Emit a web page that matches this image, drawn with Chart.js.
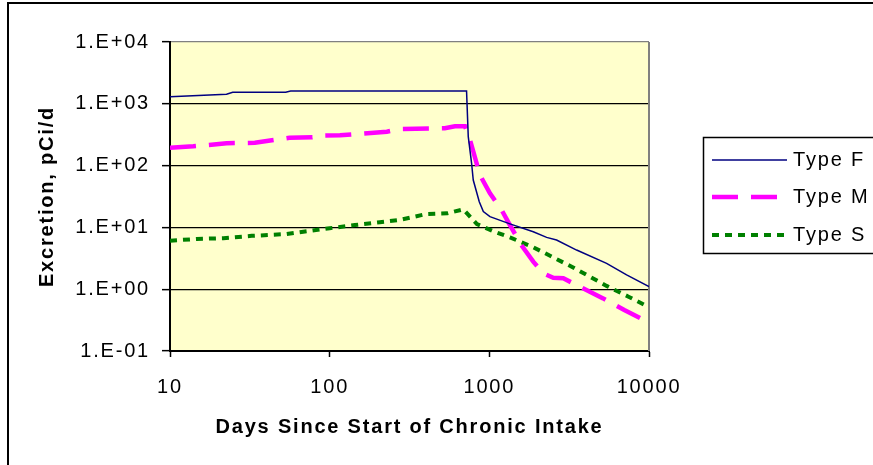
<!DOCTYPE html>
<html>
<head>
<meta charset="utf-8">
<script src="https://cdn.jsdelivr.net/npm/chart.js@4.4.1/dist/chart.umd.min.js"></script>
<style>
  html, body { margin: 0; padding: 0; background: #fff; }
  #wrap { width: 873px; height: 465px; position: relative; }
</style>
</head>
<body>
<div id="wrap"><canvas id="myChart"></canvas></div>
<script>
// values: days since start, excretion in pCi/d
var fDays = [10, 22.6, 24.7, 53, 57, 720, 738, 774, 793, 865, 917, 1009, 1346, 1884, 2285, 2637, 3520, 5425, 7240, 10000];
var fVals = [1303, 1425, 1535, 1535, 1610, 1610, 294, 110, 58.5, 26, 18, 14.9, 11.4, 8.5, 6.9, 6.25, 4.3, 2.62, 1.7, 1.1];

var mDays = [10, 14, 22.6, 34, 56, 78, 89, 116, 228, 275, 526, 609, 704, 757, 873, 1009, 1194, 1346, 1584, 1884, 2177, 2515, 2906, 4260, 5160, 7000, 10000];
var mVals = [195, 205, 230, 234, 282, 287, 305, 309, 354, 391, 401, 433, 433, 260, 70.5, 35.6, 19.1, 10.9, 5.2, 2.79, 1.81, 1.53, 1.5, 0.91, 0.71, 0.46, 0.287];

var sDays = [10, 14.7, 21.6, 32.5, 53.8, 68.3, 100, 144, 206, 275, 405, 546, 687, 757, 836, 1079, 1346, 1884, 3280, 5425, 7440, 10000];
var sVals = [6.1, 6.5, 6.7, 7.3, 7.8, 8.5, 9.7, 10.9, 12.1, 13.2, 16.5, 16.9, 19.6, 14.9, 11.3, 8.5, 6.9, 4.77, 2.31, 1.13, 0.757, 0.51];

var seriesNames = ["Type F", "Type M", "Type S"];
var xTicks = [10, 100, 1000, 10000];
var xTickLabels = ["10", "100", "1000", "10000"];
var yTicks = [0.1, 1, 10, 100, 1000, 10000];
var yTickLabels = ["1.E-01", "1.E+00", "1.E+01", "1.E+02", "1.E+03", "1.E+04"];

var FONT = "'Liberation Sans', Arial, sans-serif";

function pts(xs, ys) {
  return xs.map(function (x, i) { return {x: x, y: ys[i]}; });
}

var framePlugin = {
  id: 'frame',
  beforeDraw: function (chart) {
    var c = chart.ctx, a = chart.chartArea;
    c.letterSpacing = '1.8px';
    c.save();
    c.fillStyle = '#fff';
    c.fillRect(0, 0, chart.width, chart.height);
    c.strokeStyle = '#000';
    c.lineWidth = 2;
    c.strokeRect(8, 3, chart.width + 20, chart.height + 20);
    c.fillStyle = '#FFFFCC';
    c.fillRect(a.left, a.top, a.right - a.left, a.bottom - a.top);
    c.restore();
  },
  beforeDatasetsDraw: function (chart) {
    var c = chart.ctx, a = chart.chartArea;
    c.save();
    c.strokeStyle = '#808080';
    c.lineWidth = 2;
    c.beginPath();
    c.moveTo(a.right, a.top);
    c.lineTo(a.right, a.bottom);
    c.stroke();
    c.restore();
  },
  afterDraw: function (chart) {
    var c = chart.ctx;
    var rows = [160, 197, 235];
    c.save();
    c.strokeStyle = '#000';
    c.lineWidth = 1.5;
    c.strokeRect(703.5, 137.5, 200, 116);
    chart.data.datasets.forEach(function (ds, i) {
      c.beginPath();
      c.setLineDash(ds.borderDash || []);
      c.strokeStyle = ds.borderColor;
      c.lineWidth = ds.borderWidth;
      c.moveTo(712, rows[i]);
      c.lineTo(787, rows[i]);
      c.stroke();
      c.setLineDash([]);
      c.fillStyle = '#000';
      c.font = '20px ' + FONT;
      c.textBaseline = 'middle';
      c.fillText(ds.label, 793, rows[i]);
    });
    c.restore();
  }
};

var ctx = document.getElementById("myChart").getContext('2d');
var myChart = new Chart(ctx, {
  type: 'line',
  data: {
    datasets: [{
      label: seriesNames[0],
      data: pts(fDays, fVals),
      borderColor: '#000080',
      borderWidth: 1.5,
      pointRadius: 0,
      tension: 0,
      fill: false
    }, {
      label: seriesNames[1],
      data: pts(mDays, mVals),
      borderColor: '#FF00FF',
      borderWidth: 4.5,
      borderDash: [26, 13],
      pointRadius: 0,
      tension: 0,
      fill: false
    }, {
      label: seriesNames[2],
      data: pts(sDays, sVals),
      borderColor: '#008000',
      borderWidth: 4,
      borderDash: [7, 6],
      pointRadius: 0,
      tension: 0,
      fill: false
    }]
  },
  options: {
    responsive: true,
    maintainAspectRatio: false,
    animation: false,
    devicePixelRatio: 1,
    layout: { padding: { left: 0, top: 42, right: 224, bottom: 0 } },
    plugins: { legend: { display: false }, tooltip: { enabled: false } },
    scales: {
      x: {
        type: 'logarithmic',
        min: 10,
        max: 10000,
        afterBuildTicks: function (s) { s.ticks = xTicks.map(function (v) { return {value: v}; }); },
        afterFit: function (s) { s.height = 114; },
        grid: { drawOnChartArea: false, drawTicks: true, tickLength: 6, tickColor: '#000', tickWidth: 1.5 },
        border: { color: '#000', width: 2 },
        ticks: {
          font: { family: FONT, size: 20 },
          color: '#000',
          padding: 18,
          maxRotation: 0,
          autoSkip: false,
          callback: function (v, i) { return xTickLabels[i]; }
        },
        title: {
          display: true,
          text: 'Days Since Start of Chronic Intake',
          font: { family: FONT, size: 20, weight: 'bold' },
          color: '#000',
          padding: { top: 0, bottom: 26 }
        }
      },
      y: {
        type: 'logarithmic',
        min: 0.1,
        max: 10000,
        afterBuildTicks: function (s) { s.ticks = yTicks.map(function (v) { return {value: v}; }); },
        afterFit: function (s) { s.width = 170; },
        grid: {
          color: function (c) { return (c.tick && c.tick.value === 10000) ? '#808080' : '#000'; },
          lineWidth: 1.3,
          tickLength: 8,
          tickColor: '#000',
          tickWidth: 1.5
        },
        border: { color: '#000', width: 2 },
        ticks: {
          font: { family: FONT, size: 20 },
          color: '#000',
          padding: 12,
          autoSkip: false,
          callback: function (v, i) { return yTickLabels[i]; }
        },
        title: {
          display: true,
          text: 'Excretion, pCi/d',
          font: { family: FONT, size: 20, weight: 'bold' },
          color: '#000',
          padding: { top: 35, bottom: 0 }
        }
      }
    }
  },
  plugins: [framePlugin]
});
</script>
</body>
</html>
